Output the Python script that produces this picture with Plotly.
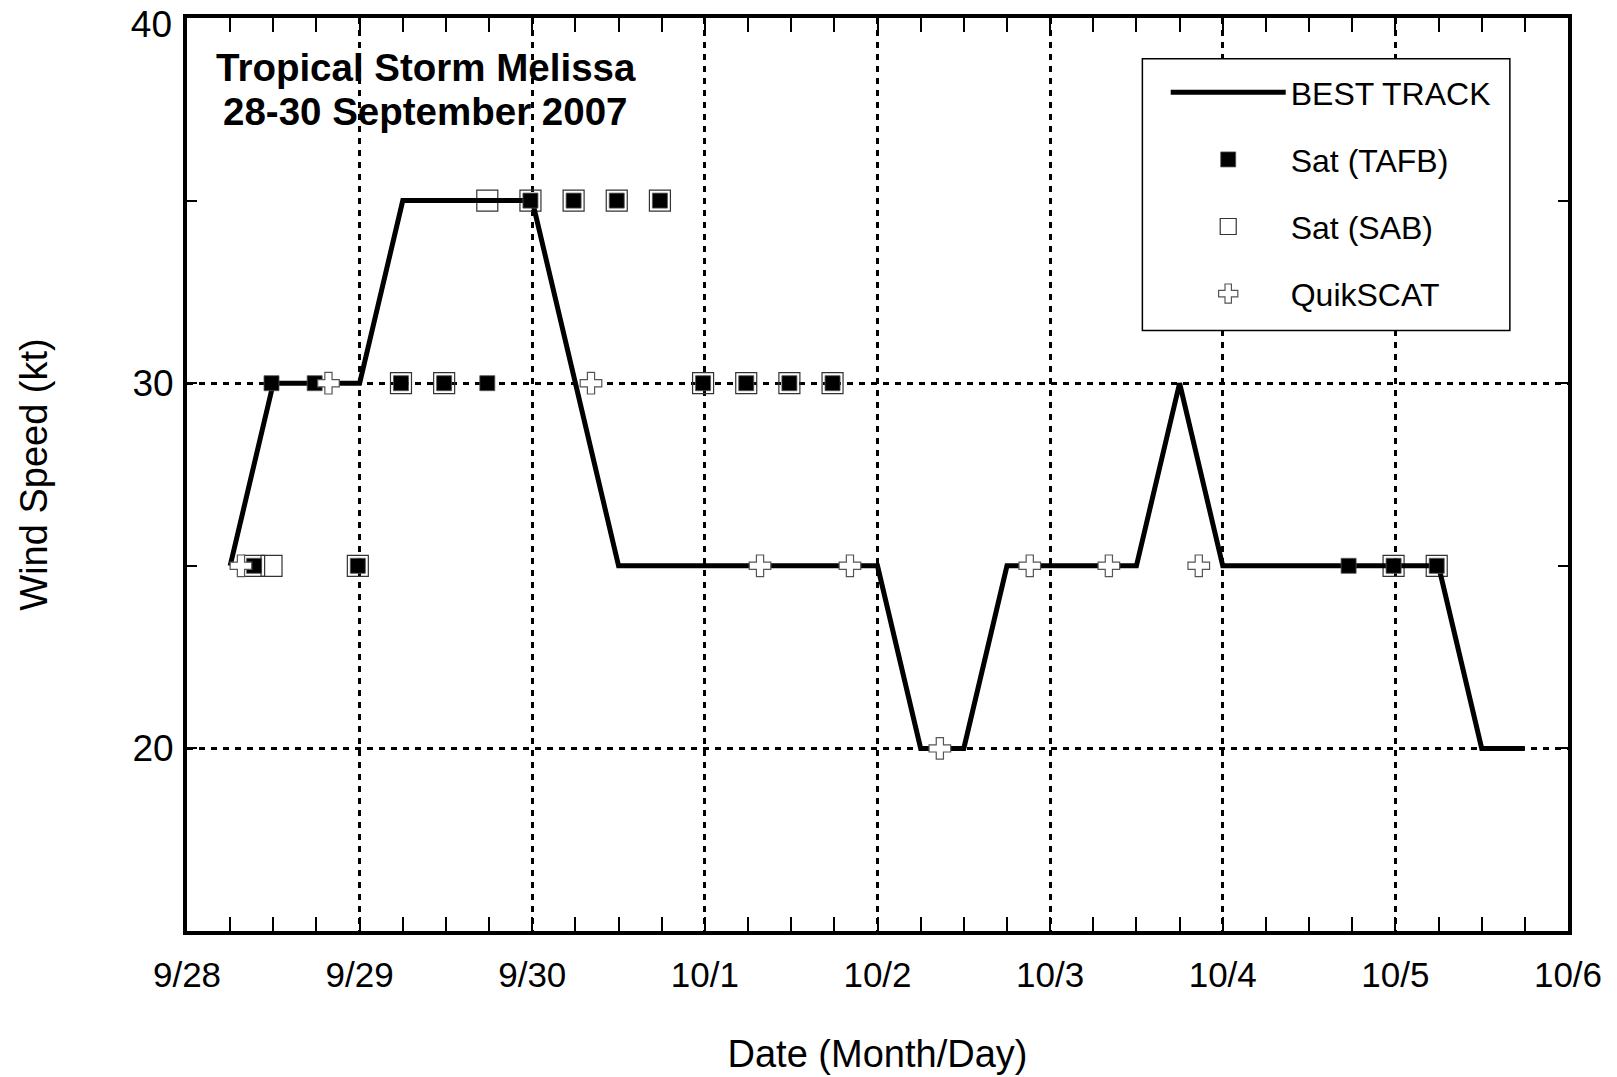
import plotly.graph_objects as go

# ---- data ----
best_time = ["2007-09-28 06:00", "2007-09-28 12:00", "2007-09-28 18:00", "2007-09-29 00:00",
             "2007-09-29 06:00", "2007-09-29 12:00", "2007-09-29 18:00", "2007-09-30 00:00",
             "2007-09-30 06:00", "2007-09-30 12:00", "2007-09-30 18:00", "2007-10-01 00:00",
             "2007-10-01 06:00", "2007-10-01 12:00", "2007-10-01 18:00", "2007-10-02 00:00",
             "2007-10-02 06:00", "2007-10-02 12:00", "2007-10-02 18:00", "2007-10-03 00:00",
             "2007-10-03 06:00", "2007-10-03 12:00", "2007-10-03 18:00", "2007-10-04 00:00",
             "2007-10-04 06:00", "2007-10-04 12:00", "2007-10-04 18:00", "2007-10-05 00:00",
             "2007-10-05 06:00", "2007-10-05 12:00", "2007-10-05 18:00"]
best_wind = [25, 30, 30, 30, 35, 35, 35, 35, 30, 25, 25, 25, 25, 25, 25, 25,
             20, 20, 25, 25, 25, 25, 30, 25, 25, 25, 25, 25, 25, 20, 20]

tafb_time = ["2007-09-28 09:20", "2007-09-28 11:45", "2007-09-28 17:45", "2007-09-28 23:45",
             "2007-09-29 05:45", "2007-09-29 11:45", "2007-09-29 17:45", "2007-09-29 23:45",
             "2007-09-30 05:45", "2007-09-30 11:45", "2007-09-30 17:45", "2007-09-30 23:45",
             "2007-10-01 05:45", "2007-10-01 11:45", "2007-10-01 17:45",
             "2007-10-04 17:30", "2007-10-04 23:45", "2007-10-05 05:45"]
tafb_wind = [25, 30, 30, 25, 30, 30, 30, 35, 35, 35, 35, 30, 30, 30, 30, 25, 25, 25]

sab_time = ["2007-09-28 09:20", "2007-09-28 11:45", "2007-09-28 23:45",
            "2007-09-29 05:45", "2007-09-29 11:45", "2007-09-29 17:45", "2007-09-29 23:45",
            "2007-09-30 05:45", "2007-09-30 11:45", "2007-09-30 17:45", "2007-09-30 23:45",
            "2007-10-01 05:45", "2007-10-01 11:45", "2007-10-01 17:45",
            "2007-10-04 23:45", "2007-10-05 05:45"]
sab_wind = [25, 25, 25, 30, 30, 35, 35, 35, 35, 35, 30, 30, 30, 30, 25, 25]

qscat_time = ["2007-09-28 07:30", "2007-09-28 19:40", "2007-09-30 08:10", "2007-10-01 07:40",
              "2007-10-01 20:10", "2007-10-02 08:40", "2007-10-02 21:10", "2007-10-03 08:10",
              "2007-10-03 20:40"]
qscat_wind = [25, 30, 30, 25, 25, 20, 25, 25, 25]

y_range = [15, 40]
y_ticks = [20, 30]
y_top_tick = [40]
title_lines = ["Tropical Storm Melissa", "28-30 September 2007"]

FONT = "Arial, Liberation Sans, sans-serif"

fig = go.Figure()
fig.add_trace(go.Scatter(
    x=sab_time, y=sab_wind, mode="markers", name="Sat (SAB)", legendrank=3,
    legendgroup="c",
    marker=dict(symbol="square", size=21, color="rgba(255,255,255,0)",
                line=dict(color="#333333", width=1.2))))
fig.add_trace(go.Scatter(
    x=best_time, y=best_wind, mode="lines", name="BEST TRACK", legendrank=1,
    legendgroup="a",
    line=dict(color="black", width=5)))
fig.add_trace(go.Scatter(
    x=tafb_time, y=tafb_wind, mode="markers", name="Sat (TAFB)", legendrank=2,
    legendgroup="b",
    marker=dict(symbol="square", size=15, color="black",
                line=dict(color="#555555", width=0.8))))
# QuikSCAT drawn on an overlaid y axis with the identical range (it carries the "40" label)
fig.add_trace(go.Scatter(
    x=qscat_time, y=qscat_wind, mode="markers", name="QuikSCAT", legendrank=4,
    legendgroup="d", yaxis="y2",
    marker=dict(symbol="cross", size=18, color="white",
                line=dict(color="#555555", width=1.2))))

# title annotations
fig.add_annotation(x=0.1728, y=0.9453, xref="paper", yref="paper", text="<b>%s</b>" % title_lines[0],
                   showarrow=False, xanchor="center", yanchor="middle",
                   font=dict(family=FONT, size=38.5, color="black"))
fig.add_annotation(x=0.1728, y=0.8972, xref="paper", yref="paper", text="<b>%s</b>" % title_lines[1],
                   showarrow=False, xanchor="center", yanchor="middle",
                   font=dict(family=FONT, size=38.5, color="black"))

# legend box
fig.add_shape(type="rect", xref="paper", yref="paper", x0=0.6918, x1=0.9579, y0=0.6576, y1=0.9555,
              line=dict(color="black", width=1.5), fillcolor="white", layer="above")

fig.update_layout(
    width=1617, height=1077,
    margin=dict(l=179, r=57, t=9.5, b=154),
    paper_bgcolor="white", plot_bgcolor="white",
    font=dict(family=FONT, color="black"),
    showlegend=True,
    legend=dict(x=0.7087, y=0.9485, xanchor="left", yanchor="top",
                bgcolor="rgba(0,0,0,0)", borderwidth=0,
                font=dict(family=FONT, size=32, color="black"),
                itemwidth=115, tracegroupgap=22.5, traceorder="grouped"),
    xaxis=dict(
        type="date", range=["2007-09-28", "2007-10-06"],
        tick0="2007-09-28", dtick=86400000, tickformat="%-m/%-d",
        ticks="inside", ticklen=14, tickwidth=2, tickcolor="black",
        showline=True, linewidth=4, linecolor="black", mirror="allticks",
        showgrid=True, gridcolor="black", gridwidth=2.5, griddash="6px,6px",
        minor=dict(dtick=21600000, ticks="inside", ticklen=9, tickwidth=2,
                   tickcolor="black", showgrid=False),
        tickfont=dict(family=FONT, size=35), ticklabelstandoff=10,
        ticklabeloverflow="allow",
        title=dict(text="Date (Month/Day)", font=dict(family=FONT, size=38), standoff=48),
        zeroline=False, automargin=False),
    yaxis=dict(
        range=y_range, tickmode="array", tickvals=y_ticks,
        ticks="inside", ticklen=10, tickwidth=2, tickcolor="black",
        showline=True, linewidth=4, linecolor="black", mirror="allticks",
        showgrid=True, gridcolor="black", gridwidth=2.5, griddash="6px,6px",
        minor=dict(dtick=5, tick0=0, ticks="inside", ticklen=10, tickwidth=2,
                   tickcolor="black", showgrid=False),
        tickfont=dict(family=FONT, size=37), ticklabelstandoff=2,
        ticklabeloverflow="allow",
        title=dict(text="Wind Speed (kt)", font=dict(family=FONT, size=38), standoff=74),
        zeroline=False, automargin=False),
    yaxis2=dict(
        overlaying="y", anchor="x", side="left", range=y_range,
        tickmode="array", tickvals=y_top_tick, ticks="",
        showgrid=False, showline=False, zeroline=False,
        tickfont=dict(family=FONT, size=37), ticklabelstandoff=14,
        ticklabelshift=6, ticklabeloverflow="allow", automargin=False),
)

fig.write_html("out.html")
